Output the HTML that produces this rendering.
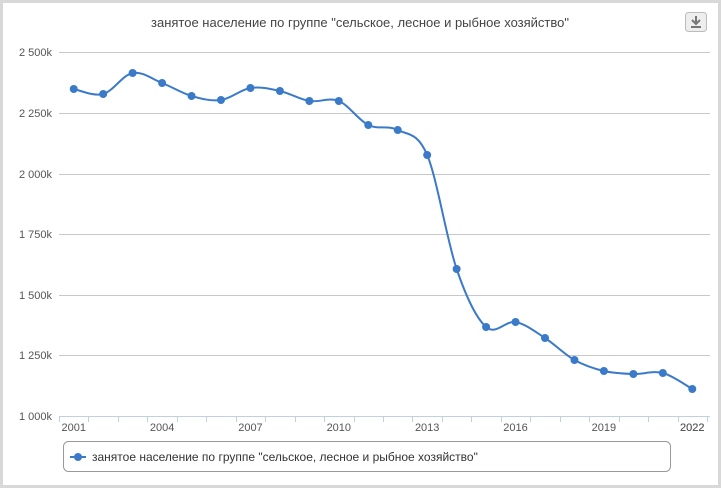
<!DOCTYPE html>
<html><head><meta charset="utf-8"><style>
html,body{margin:0;padding:0;background:#fff;width:721px;height:488px;overflow:hidden}
svg{display:block;font-family:"Liberation Sans","DejaVu Sans",sans-serif}
</style></head><body>
<svg id="s" width="721" height="488" xmlns="http://www.w3.org/2000/svg">
<rect x="1.5" y="1.5" width="718" height="485" fill="#fff" stroke="#d8d8d8" stroke-width="3"/>
<text x="360" y="27" text-anchor="middle" font-size="13" fill="#444">занятое население по группе "сельское, лесное и рыбное хозяйство"</text>
<rect x="685.5" y="12.5" width="21" height="19" rx="3" fill="#eee" stroke="#bbb"/>
<path d="M696 16v8M692 20l4 4 4-4M691 27h10" stroke="#777" stroke-width="2" fill="none"/>
<g stroke="#c8c8c8" stroke-width="1">
<line x1="59" x2="710" y1="52.5" y2="52.5"/><line x1="59" x2="710" y1="113.5" y2="113.5"/>
<line x1="59" x2="710" y1="174.5" y2="174.5"/><line x1="59" x2="710" y1="234.5" y2="234.5"/>
<line x1="59" x2="710" y1="295.5" y2="295.5"/><line x1="59" x2="710" y1="355.5" y2="355.5"/>
</g>
<line x1="59" x2="710" y1="416.5" y2="416.5" stroke="#c0d0e0"/>
<g id="ticks" stroke="#c0d0e0"></g>
<g font-size="11" fill="#555" text-anchor="end">
<text x="52" y="56">2 500k</text><text x="52" y="117">2 250k</text><text x="52" y="178">2 000k</text>
<text x="52" y="238">1 750k</text><text x="52" y="299">1 500k</text><text x="52" y="359">1 250k</text><text x="52" y="420">1 000k</text>
</g>
<g id="xl" font-size="11" fill="#555" text-anchor="middle"></g>
<path id="ln" fill="none" stroke="#3a7ac8" stroke-width="2"/>
<g id="pts" fill="#3a7ac8"></g>
<rect x="63.5" y="441.5" width="607" height="30" rx="5" fill="#fff" stroke="#999"/>
<line x1="70" x2="86" y1="457" y2="457" stroke="#3a7ac8" stroke-width="2"/>
<circle cx="78" cy="457" r="4" fill="#3a7ac8"/>
<text x="92" y="461" font-size="12" fill="#333">занятое население по группе "сельское, лесное и рыбное хозяйство"</text>
</svg>
<script>
var ys=[89,94,73,83,96,100,88,91,101,101,125,130,155,269,327,322,338,360,371,374,373,389];
var w=648/22,x0=59,P=ys.map(function(y,i){return[x0+w*(i+0.5),y]});
var ns="http://www.w3.org/2000/svg",t=document.getElementById('ticks'),xl=document.getElementById('xl'),pts=document.getElementById('pts');
for(var i=0;i<=22;i++){var l=document.createElementNS(ns,'line');var xx=Math.round(x0+w*i)+.5;l.setAttribute('x1',xx);l.setAttribute('x2',xx);l.setAttribute('y1',416);l.setAttribute('y2',422);t.appendChild(l);}
for(var i=0;i<22;i+=3){var tx=document.createElementNS(ns,'text');tx.setAttribute('x',P[i][0]);tx.setAttribute('y',431);tx.textContent=2001+i;xl.appendChild(tx);}
var tx=document.createElementNS(ns,'text');tx.setAttribute('x',P[21][0]);tx.setAttribute('y',431);tx.textContent=2022;xl.appendChild(tx);
var d='M'+P[0][0]+','+P[0][1];
for(var i=0;i<P.length-1;i++){var p0=P[Math.max(i-1,0)],p1=P[i],p2=P[i+1],p3=P[Math.min(i+2,P.length-1)];
var s=0.25;
d+=' C'+(p1[0]+(p2[0]-p0[0])*s/1.5)+','+(p1[1]+(p2[1]-p0[1])*s/1.5)+' '+(p2[0]-(p3[0]-p1[0])*s/1.5)+','+(p2[1]-(p3[1]-p1[1])*s/1.5)+' '+p2[0]+','+p2[1];}
document.getElementById('ln').setAttribute('d',d);
P.forEach(function(p){var c=document.createElementNS(ns,'circle');c.setAttribute('cx',p[0]);c.setAttribute('cy',p[1]);c.setAttribute('r',4);pts.appendChild(c);});
</script>
</body></html>
